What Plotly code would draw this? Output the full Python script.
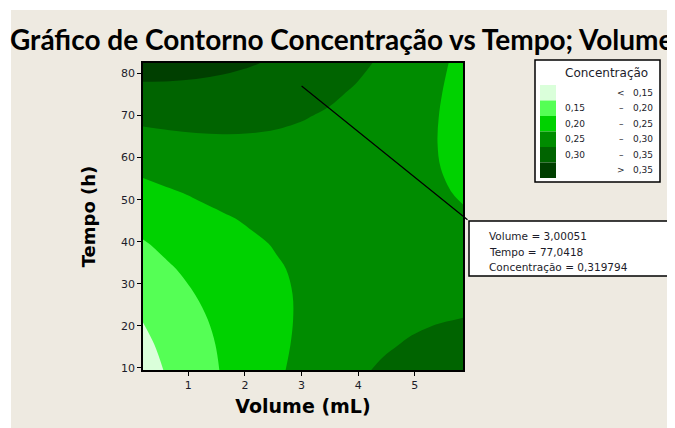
import plotly.graph_objects as go

# ---------------- data ----------------
volume = [0.2, 0.67, 1.14, 1.61, 2.08, 2.55, 3.02, 3.49, 3.96, 4.43, 4.9, 5.37, 5.85]   # mL
tempo = [9.5, 15.5, 21.5, 27.5, 33.5, 39.5, 45.5, 51.5, 57.5, 63.5, 69.5, 75.5, 82.5]   # h
# concentration rows (one per tempo value, across volume)
conc_t09 = [0.1303, 0.1561, 0.1804, 0.2030, 0.2241, 0.2436, 0.2615, 0.2778, 0.2925, 0.3056, 0.3171, 0.3270, 0.3355]
conc_t15 = [0.1399, 0.1634, 0.1853, 0.2057, 0.2244, 0.2416, 0.2572, 0.2712, 0.2836, 0.2944, 0.3036, 0.3112, 0.3173]
conc_t21 = [0.1513, 0.1725, 0.1922, 0.2102, 0.2266, 0.2415, 0.2548, 0.2664, 0.2765, 0.2850, 0.2919, 0.2972, 0.3010]
conc_t27 = [0.1646, 0.1835, 0.2008, 0.2165, 0.2307, 0.2432, 0.2542, 0.2635, 0.2713, 0.2775, 0.2821, 0.2851, 0.2865]
conc_t33 = [0.1797, 0.1963, 0.2113, 0.2247, 0.2366, 0.2468, 0.2554, 0.2625, 0.2679, 0.2718, 0.2741, 0.2748, 0.2738]
conc_t39 = [0.1967, 0.2110, 0.2237, 0.2348, 0.2443, 0.2522, 0.2585, 0.2633, 0.2664, 0.2679, 0.2679, 0.2663, 0.2630]
conc_t45 = [0.2155, 0.2275, 0.2379, 0.2466, 0.2538, 0.2594, 0.2635, 0.2659, 0.2667, 0.2659, 0.2636, 0.2597, 0.2540]
conc_t51 = [0.2362, 0.2458, 0.2539, 0.2604, 0.2652, 0.2685, 0.2702, 0.2703, 0.2689, 0.2658, 0.2611, 0.2549, 0.2469]
conc_t57 = [0.2587, 0.2660, 0.2718, 0.2759, 0.2785, 0.2795, 0.2789, 0.2767, 0.2729, 0.2675, 0.2605, 0.2519, 0.2415]
conc_t63 = [0.2830, 0.2880, 0.2915, 0.2933, 0.2936, 0.2922, 0.2893, 0.2848, 0.2787, 0.2710, 0.2617, 0.2508, 0.2381]
conc_t69 = [0.3092, 0.3119, 0.3130, 0.3126, 0.3105, 0.3069, 0.3016, 0.2948, 0.2864, 0.2764, 0.2648, 0.2516, 0.2365]
conc_t75 = [0.3372, 0.3376, 0.3364, 0.3336, 0.3293, 0.3233, 0.3158, 0.3066, 0.2959, 0.2836, 0.2697, 0.2542, 0.2367]
conc_t82 = [0.3722, 0.3699, 0.3660, 0.3606, 0.3535, 0.3448, 0.3346, 0.3228, 0.3093, 0.2943, 0.2777, 0.2595, 0.2393]

levels = [0.15, 0.20, 0.25, 0.30, 0.35]
band_labels = ["<", "0,15", "0,20", "0,25", "0,30", ">"]
band_ranges = ["0,15", "0,20", "0,25", "0,30", "0,35", "0,35"]
band_colors = ["#DAFFDA", "#55FF55", "#00D200", "#008C00", "#006400", "#003F00"]

x_ticks = [1, 2, 3, 4, 5]
y_ticks = [10, 20, 30, 40, 50, 60, 70, 80]

sel_volume = 3.00051
sel_tempo = 77.0418
sel_conc = 0.319794

# ---------------- figure ----------------
z = [conc_t09, conc_t15, conc_t21, conc_t27, conc_t33, conc_t39, conc_t45,
     conc_t51, conc_t57, conc_t63, conc_t69, conc_t75, conc_t82]
n = len(band_colors)
colorscale = [[i / (n - 1), c] for i, c in enumerate(band_colors)]

fig = go.Figure()
fig.add_trace(go.Contour(
    x=volume, y=tempo, z=z,
    contours=dict(start=levels[0], end=levels[-1], size=levels[1] - levels[0], coloring="fill"),
    colorscale=colorscale, showscale=False,
    line=dict(width=0, smoothing=1.0),
    hoverinfo="skip",
))

OFF = 8  # page body margin of the browser
W, H = 667, 420
L, T = 143 - OFF, 63 - OFF
R = W - (463 - OFF)
B = H - (370 - OFF)
pw, ph = W - L - R, H - T - B


def px(xp):
    return (xp - OFF - L) / pw


def py(yp):
    return (H - B - (yp - OFF)) / ph


font_main = "Tahoma, 'DejaVu Sans', Verdana, sans-serif"
font_title = "Lato, 'Liberation Sans', Arial, sans-serif"
beige = "#EEEAE1"
txt = "#1c1c2a"

shapes = []
annotations = []
# beige background panel
shapes.append(dict(type="rect", xref="paper", yref="paper", x0=px(11), x1=px(700), y0=py(10), y1=py(460),
                   fillcolor=beige, line=dict(width=0), layer="below"))

# legend box
lx0, lx1, ly0, ly1 = 535, 660, 60, 182
shapes.append(dict(type="rect", xref="paper", yref="paper", x0=px(lx0), x1=px(lx1), y0=py(ly0), y1=py(ly1),
                   fillcolor="white", line=dict(color="black", width=1.5)))
annotations.append(dict(xref="paper", yref="paper", x=px(606), y=py(73), text="Concentração",
                        showarrow=False, font=dict(family=font_main, size=12, color=txt),
                        xanchor="center", yanchor="middle"))
row_top = 85
row_h = 15.5
f9 = dict(family=font_main, size=9, color=txt)
for i, col in enumerate(band_colors):
    y0 = row_top + i * row_h
    shapes.append(dict(type="rect", xref="paper", yref="paper", x0=px(540), x1=px(556),
                       y0=py(y0), y1=py(y0 + row_h), fillcolor=col, line=dict(width=0)))
    yc = y0 + row_h / 2
    lab = band_labels[i]
    if lab in ("<", ">"):
        annotations.append(dict(xref="paper", yref="paper", x=px(621), y=py(yc), text=lab,
                                showarrow=False, font=f9, xanchor="center", yanchor="middle"))
    else:
        annotations.append(dict(xref="paper", yref="paper", x=px(563), y=py(yc), text=lab,
                                showarrow=False, font=f9, xanchor="left", yanchor="middle"))
        annotations.append(dict(xref="paper", yref="paper", x=px(621), y=py(yc), text="–",
                                showarrow=False, font=f9, xanchor="center", yanchor="middle"))
    annotations.append(dict(xref="paper", yref="paper", x=px(631), y=py(yc), text=band_ranges[i],
                            showarrow=False, font=f9, xanchor="left", yanchor="middle"))

# selection info box
bx0, bx1, by0, by1 = 469, 668, 221, 276
shapes.append(dict(type="rect", xref="paper", yref="paper", x0=px(bx0), x1=px(bx1), y0=py(by0), y1=py(by1),
                   fillcolor="white", line=dict(color="black", width=1.5)))


def fmt(v):
    return f"{v}".replace(".", ",")


info = [f"Volume = {fmt(sel_volume)}", f"Tempo = {fmt(sel_tempo)}", f"Concentração = {fmt(sel_conc)}"]
for k, t in enumerate(info):
    annotations.append(dict(xref="paper", yref="paper", x=px(487), y=py(236 + 15.5 * k), text=t,
                            showarrow=False, font=dict(family=font_main, size=10.5, color=txt),
                            xanchor="left", yanchor="middle"))

# leader line from the selected point to the box corner
sx = L + (sel_volume - 0.2) / (5.85 - 0.2) * pw
sy = T + (82.5 - sel_tempo) / (82.5 - 9.5) * ph
annotations.append(dict(x=sel_volume, y=sel_tempo, xref="x", yref="y", text="",
                        showarrow=True, arrowhead=0, arrowwidth=1.2, arrowcolor="black",
                        ax=(bx0 - OFF) - sx, ay=(by0 - OFF) - sy, axref="pixel", ayref="pixel"))

# title
annotations.append(dict(xref="paper", yref="paper", x=px(341), y=py(39),
                        text="<b>Gráfico de Contorno Concentração vs Tempo; Volume</b>",
                        showarrow=False, font=dict(family=font_title, size=28, color="black"),
                        xanchor="center", yanchor="middle"))

fig.update_layout(
    width=W, height=H,
    margin=dict(l=L, r=R, t=T, b=B),
    paper_bgcolor="white", plot_bgcolor=beige,
    shapes=shapes, annotations=annotations,
    showlegend=False,
)
fig.update_xaxes(range=[0.2, 5.85], tickvals=x_ticks, ticktext=[str(v) for v in x_ticks],
                 ticks="outside", ticklen=4, tickcolor="black", showgrid=False, zeroline=False,
                 showline=True, linecolor="black", linewidth=1.5, mirror=True,
                 tickfont=dict(family=font_main, size=11, color=txt),
                 title=dict(text="<b>Volume (mL)</b>", font=dict(family=font_main, size=19, color="black"),
                            standoff=9))
fig.update_yaxes(range=[9.5, 82.5], tickvals=y_ticks, ticktext=[str(v) for v in y_ticks],
                 ticks="outside", ticklen=4, tickcolor="black", showgrid=False, zeroline=False,
                 showline=True, linecolor="black", linewidth=1.5, mirror=True,
                 tickfont=dict(family=font_main, size=11, color=txt),
                 title=dict(text="<b>Tempo (h)</b>", font=dict(family=font_main, size=18, color="black"),
                            standoff=21))

fig.write_html("out.html")
